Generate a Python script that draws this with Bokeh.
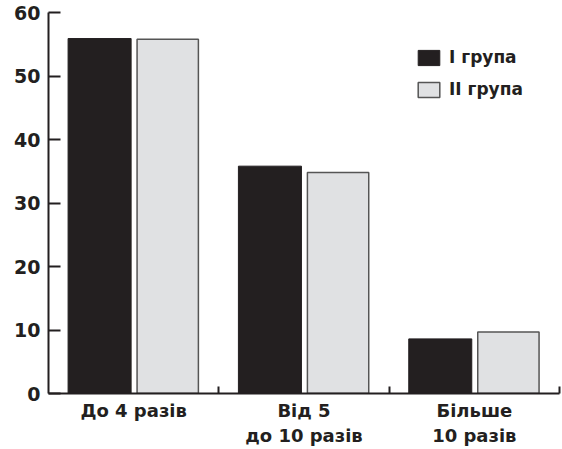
from bokeh.plotting import figure
from bokeh.models import FixedTicker, Range1d, Legend, LegendItem, ColumnDataSource
from bokeh.embed import file_html
from bokeh.resources import INLINE

categories = ["До 4 разів", "Від 5\nдо 10 разів", "Більше\n10 разів"]
group1 = [55.9, 35.8, 8.6]
group2 = [55.8, 34.8, 9.7]
series_names = ["I група", "II група"]
y_ticks = [0, 10, 20, 30, 40, 50, 60]

FONT = "DejaVu Sans"
INK = "#231f20"

idx = list(range(len(categories)))
src1 = ColumnDataSource(dict(x=[i + 0.30 for i in idx], top=group1))
src2 = ColumnDataSource(dict(x=[i + 0.70 for i in idx], top=group2))

p = figure(width=562, height=449, output_backend="svg", toolbar_location=None,
           x_range=Range1d(0, len(categories)), y_range=Range1d(0, 60),
           min_border_left=48, min_border_right=3, min_border_top=12, min_border_bottom=55)
p.outline_line_color = None
p.grid.grid_line_color = None
p.background_fill_color = "white"
p.border_fill_color = "white"

r1 = p.vbar(x="x", top="top", width=0.37, bottom=0, source=src1,
            fill_color=INK, line_color=INK, line_width=1)
r2 = p.vbar(x="x", top="top", width=0.36, bottom=0, source=src2,
            fill_color="#e0e1e3", line_color="#555555", line_width=1.5)

# x axis
p.xaxis.ticker = FixedTicker(ticks=[i + 0.5 for i in idx], minor_ticks=[i + 1 for i in idx])
p.xaxis.major_label_overrides = {i + 0.5: c for i, c in zip(idx, categories)}
p.xaxis.major_tick_line_color = None
p.xaxis.major_tick_in = 0
p.xaxis.major_tick_out = 0
p.xaxis.minor_tick_in = 7
p.xaxis.minor_tick_out = 0
p.xaxis.minor_tick_line_width = 2
p.xaxis.minor_tick_line_color = INK
p.xaxis.axis_line_width = 2
p.xaxis.axis_line_color = INK
p.xaxis.major_label_text_font = FONT
p.xaxis.major_label_text_font_style = "bold"
p.xaxis.major_label_text_font_size = "18px"
p.xaxis.major_label_text_color = INK
p.xaxis.major_label_text_line_height = 1.22
p.xaxis.major_label_standoff = 6

# y axis
p.yaxis.ticker = FixedTicker(ticks=y_ticks)
p.yaxis.major_tick_in = 12
p.yaxis.major_tick_out = 0
p.yaxis.major_tick_line_width = 2
p.yaxis.major_tick_line_color = INK
p.yaxis.minor_tick_line_color = None
p.yaxis.axis_line_width = 2
p.yaxis.axis_line_color = INK
p.yaxis.major_label_text_font = FONT
p.yaxis.major_label_text_font_style = "bold"
p.yaxis.major_label_text_font_size = "19px"
p.yaxis.major_label_text_color = INK
p.yaxis.major_label_standoff = 8

legend = Legend(items=[LegendItem(label=series_names[0], renderers=[r1]),
                       LegendItem(label=series_names[1], renderers=[r2])],
                location=(367, 294), padding=0, margin=0, spacing=12,
                glyph_width=27, glyph_height=19, label_height=19, label_standoff=7,
                border_line_color=None, background_fill_alpha=0,
                label_text_font=FONT, label_text_font_style="bold",
                label_text_font_size="17px", label_text_color=INK)
p.add_layout(legend)

open("out.html", "w").write(file_html(p, INLINE))
